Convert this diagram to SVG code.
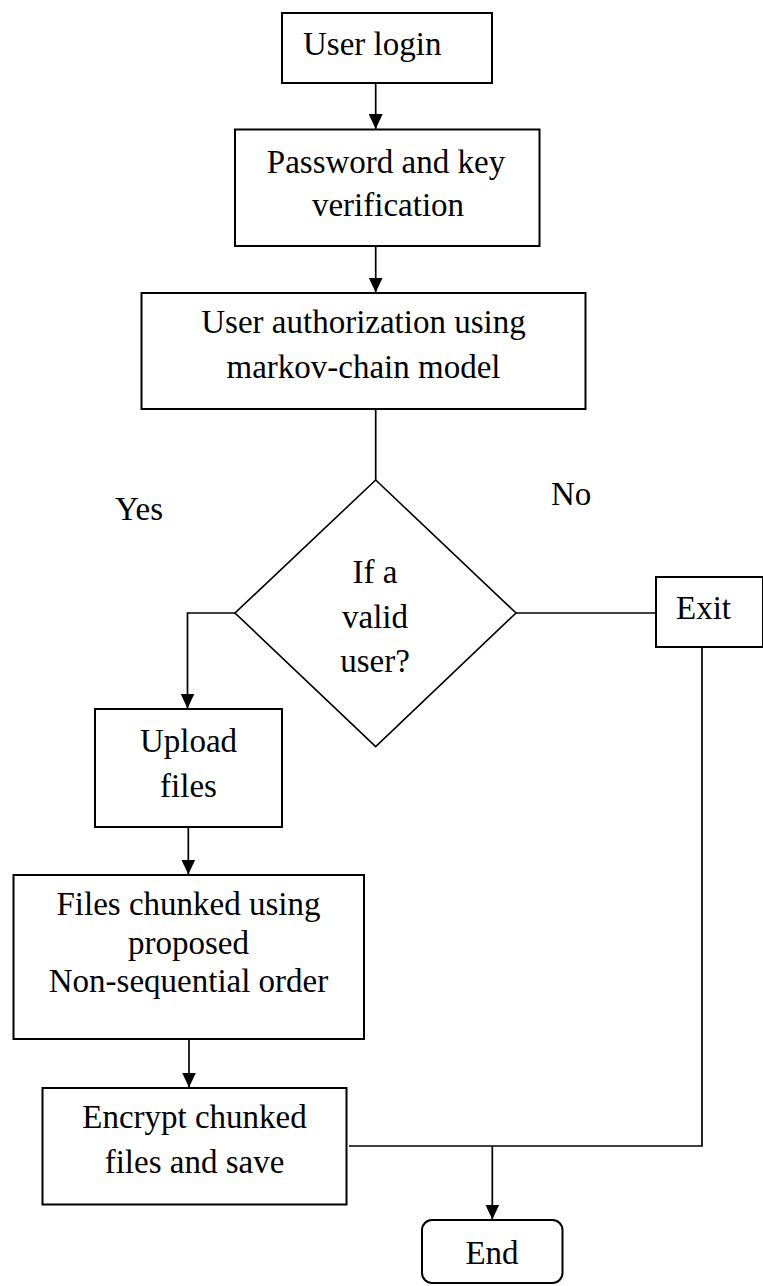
<svg xmlns="http://www.w3.org/2000/svg" width="763" height="1286" viewBox="0 0 763 1286">
<style>
.box{fill:#fff;stroke:#000;stroke-width:2}
.dia{fill:#fff;stroke:#000;stroke-width:1.6}
.ln{fill:none;stroke:#000;stroke-width:1.7}
text{font-family:"Liberation Serif","Times New Roman",serif;font-size:33px;fill:#000}
.c{text-anchor:middle}
</style>
<defs>
<marker id="arr" viewBox="0 0 15 14" refX="15" refY="7" markerWidth="15" markerHeight="14" markerUnits="userSpaceOnUse" orient="auto">
<path d="M0,0 L15,7 L0,14 z" fill="#000"/>
</marker>
</defs>
<g id="connectors">
<line class="ln" x1="375.7" y1="83" x2="375.7" y2="129" marker-end="url(#arr)"/>
<line class="ln" x1="375.7" y1="246" x2="375.7" y2="292.5" marker-end="url(#arr)"/>
<line class="ln" x1="375.7" y1="409" x2="375.7" y2="480"/>
<polyline class="ln" points="235,613 187.5,613 187.5,708.5" marker-end="url(#arr)"/>
<line class="ln" x1="516" y1="613" x2="656" y2="613"/>
<polyline class="ln" points="702,647 702,1146 349,1146"/>
<line class="ln" x1="492.3" y1="1146" x2="492.3" y2="1219.5" marker-end="url(#arr)"/>
<line class="ln" x1="188.3" y1="827" x2="188.3" y2="874.5" marker-end="url(#arr)"/>
<line class="ln" x1="189" y1="1039" x2="189" y2="1087.5" marker-end="url(#arr)"/>
</g>
<g id="n-login">
<rect class="box" x="282" y="13" width="210" height="70"/>
<text x="303" y="55">User login</text>
</g>
<g id="n-password">
<rect class="box" x="235" y="129.5" width="304.5" height="116.5"/>
<text class="c" x="386" y="173">Password and key</text>
<text class="c" x="388" y="216">verification</text>
</g>
<g id="n-auth">
<rect class="box" x="141.5" y="293" width="444" height="116"/>
<text class="c" x="363.5" y="333">User authorization using</text>
<text class="c" x="363.5" y="378">markov-chain model</text>
</g>
<g id="n-valid">
<polygon class="dia" points="375.7,480 516,613 375.7,746.7 235,613"/>
<text class="c" x="375" y="583">If a</text>
<text class="c" x="375" y="628">valid</text>
<text class="c" x="375" y="672">user?</text>
</g>
<g id="lbl-yes"><text x="115" y="520">Yes</text></g>
<g id="lbl-no"><text x="551" y="505">No</text></g>
<g id="n-exit">
<rect class="box" x="656" y="577" width="107" height="70"/>
<text x="676" y="619">Exit</text>
</g>
<g id="n-upload">
<rect class="box" x="95" y="709" width="187" height="118"/>
<text class="c" x="188.5" y="752">Upload</text>
<text class="c" x="188.5" y="797">files</text>
</g>
<g id="n-chunk">
<rect class="box" x="13.5" y="875" width="350.5" height="164"/>
<text class="c" x="188.5" y="915">Files chunked using</text>
<text class="c" x="188.5" y="954">proposed</text>
<text class="c" x="188.5" y="992">Non-sequential order</text>
</g>
<g id="n-encrypt">
<rect class="box" x="42.5" y="1088" width="304" height="116.5"/>
<text class="c" x="194.5" y="1128">Encrypt chunked</text>
<text class="c" x="194.5" y="1173">files and save</text>
</g>
<g id="n-end">
<rect class="box" x="422" y="1220" width="140.5" height="63" rx="10" ry="10"/>
<text class="c" x="492" y="1264">End</text>
</g>
</svg>
